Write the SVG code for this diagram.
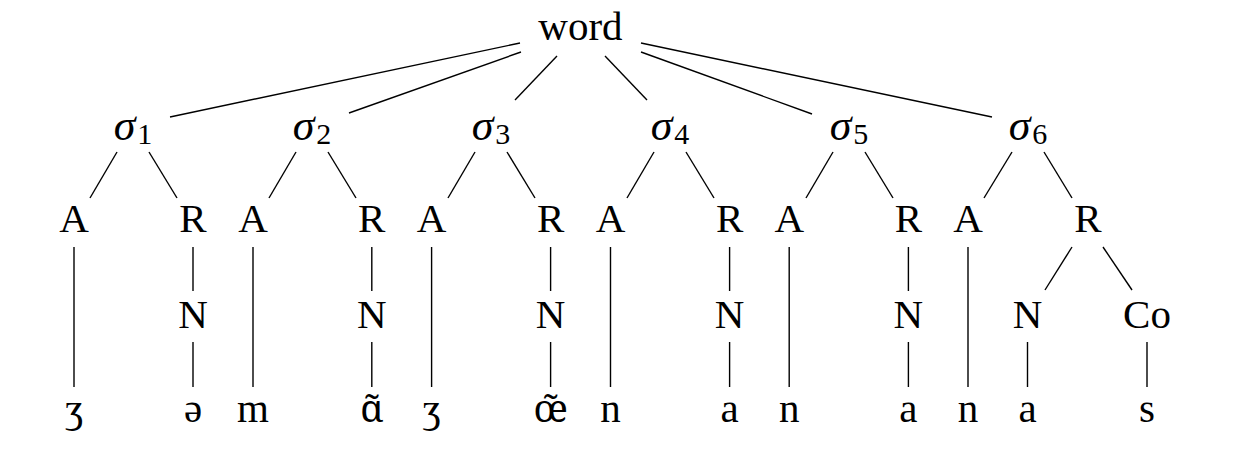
<svg xmlns="http://www.w3.org/2000/svg" width="1233" height="462" viewBox="0 0 1233 462">
<style>
text{font-family:"Liberation Serif","DejaVu Serif",serif;font-size:41px;fill:#000;text-anchor:middle}
.sig{font-style:italic;font-size:44px}
.sub{font-style:normal;font-size:30px}
.ipa{font-family:"Noto Serif","DejaVu Serif",serif;font-size:38px}
#edges line{stroke:#000;stroke-width:1.4;fill:none}
</style>
<rect width="1233" height="462" fill="#fff"/>
<g id="edges">
<line x1="520" y1="43" x2="170" y2="117"/>
<line x1="521" y1="52" x2="349" y2="113"/>
<line x1="557" y1="56" x2="515" y2="100"/>
<line x1="605" y1="56" x2="647" y2="100"/>
<line x1="641" y1="52" x2="812" y2="114"/>
<line x1="641" y1="43" x2="992" y2="117"/>
<line x1="117" y1="152" x2="90" y2="198"/>
<line x1="149" y1="152" x2="177" y2="198"/>
<line x1="296" y1="152" x2="269" y2="198"/>
<line x1="328" y1="152" x2="356" y2="198"/>
<line x1="475" y1="152" x2="448" y2="198"/>
<line x1="507" y1="152" x2="535" y2="198"/>
<line x1="654" y1="152" x2="627" y2="198"/>
<line x1="686" y1="152" x2="714" y2="198"/>
<line x1="833" y1="152" x2="806" y2="198"/>
<line x1="865" y1="152" x2="893" y2="198"/>
<line x1="1012" y1="152" x2="984" y2="198"/>
<line x1="1044" y1="152" x2="1072" y2="198"/>
<line x1="74" y1="247" x2="74" y2="387"/>
<line x1="253" y1="247" x2="253" y2="387"/>
<line x1="431.6" y1="247" x2="431.6" y2="387"/>
<line x1="610.5" y1="247" x2="610.5" y2="387"/>
<line x1="789.2" y1="247" x2="789.2" y2="387"/>
<line x1="968" y1="247" x2="968" y2="387"/>
<line x1="193" y1="247" x2="193" y2="291"/>
<line x1="371.8" y1="247" x2="371.8" y2="291"/>
<line x1="550.6" y1="247" x2="550.6" y2="291"/>
<line x1="729.6" y1="247" x2="729.6" y2="291"/>
<line x1="908.4" y1="247" x2="908.4" y2="291"/>
<line x1="193" y1="342" x2="193" y2="387"/>
<line x1="371.8" y1="342" x2="371.8" y2="387"/>
<line x1="550.6" y1="342" x2="550.6" y2="387"/>
<line x1="729.6" y1="342" x2="729.6" y2="387"/>
<line x1="908.4" y1="342" x2="908.4" y2="387"/>
<line x1="1072" y1="247" x2="1045" y2="290"/>
<line x1="1103" y1="247" x2="1132" y2="290"/>
<line x1="1027.5" y1="342" x2="1027.5" y2="387"/>
<line x1="1147" y1="342" x2="1147" y2="387"/>
</g>
<g id="word"><text x="580.5" y="40">word</text></g>
<g id="s1"><text class="sig" x="133" y="140">σ<tspan class="sub" dx="2" dy="4">1</tspan></text></g>
<g id="s2"><text class="sig" x="312" y="140">σ<tspan class="sub" dx="2" dy="4">2</tspan></text></g>
<g id="s3"><text class="sig" x="491" y="140">σ<tspan class="sub" dx="2" dy="4">3</tspan></text></g>
<g id="s4"><text class="sig" x="670" y="140">σ<tspan class="sub" dx="2" dy="4">4</tspan></text></g>
<g id="s5"><text class="sig" x="849" y="140">σ<tspan class="sub" dx="2" dy="4">5</tspan></text></g>
<g id="s6"><text class="sig" x="1028" y="140">σ<tspan class="sub" dx="2" dy="4">6</tspan></text></g>
<g id="A1"><text x="74" y="232">A</text></g>
<g id="R1"><text x="193" y="232">R</text></g>
<g id="A2"><text x="253" y="232">A</text></g>
<g id="R2"><text x="371.8" y="232">R</text></g>
<g id="A3"><text x="431.6" y="232">A</text></g>
<g id="R3"><text x="550.6" y="232">R</text></g>
<g id="A4"><text x="610.5" y="232">A</text></g>
<g id="R4"><text x="729.6" y="232">R</text></g>
<g id="A5"><text x="789.2" y="232">A</text></g>
<g id="R5"><text x="908.4" y="232">R</text></g>
<g id="A6"><text x="968" y="232">A</text></g>
<g id="R6"><text x="1088" y="232">R</text></g>
<g id="N1"><text x="193" y="328">N</text></g>
<g id="N2"><text x="371.8" y="328">N</text></g>
<g id="N3"><text x="550.6" y="328">N</text></g>
<g id="N4"><text x="729.6" y="328">N</text></g>
<g id="N5"><text x="908.4" y="328">N</text></g>
<g id="N6"><text x="1027.5" y="328">N</text></g>
<g id="Co6"><text x="1147" y="328">Co</text></g>
<g id="l1"><text x="74" y="422">ʒ</text></g>
<g id="l2"><text x="193" y="422">ə</text></g>
<g id="l3"><text x="253" y="422">m</text></g>
<g id="l4"><text class="ipa" x="371.8" y="422">ɑ̃</text></g>
<g id="l5"><text x="431.6" y="422">ʒ</text></g>
<g id="l6"><text class="ipa" x="550.6" y="422">œ̃</text></g>
<g id="l7"><text x="610.5" y="422">n</text></g>
<g id="l8"><text x="729.6" y="422">a</text></g>
<g id="l9"><text x="789.2" y="422">n</text></g>
<g id="l10"><text x="908.4" y="422">a</text></g>
<g id="l11"><text x="968" y="422">n</text></g>
<g id="l12"><text x="1027.5" y="422">a</text></g>
<g id="l13"><text x="1147" y="422">s</text></g>
</svg>
